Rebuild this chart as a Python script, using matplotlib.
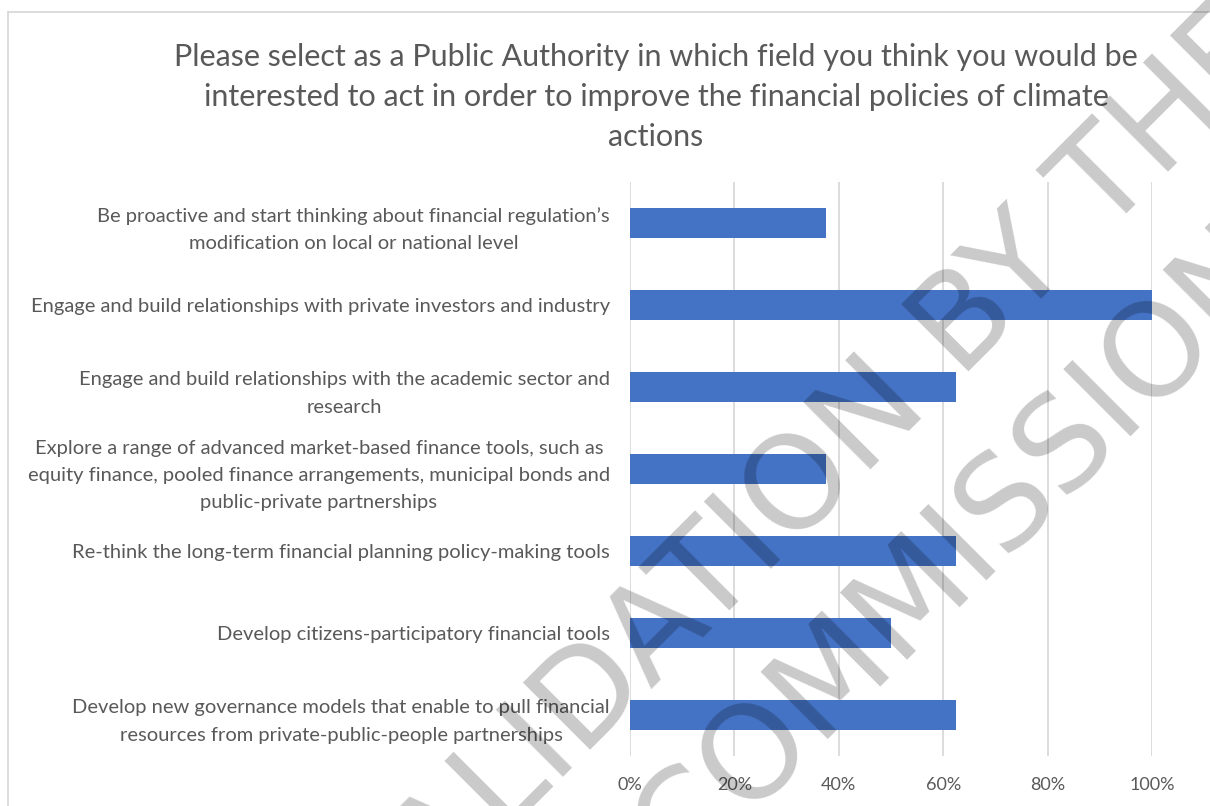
"""
Survey results - fields where public authorities would act on climate finance
"""

import matplotlib
matplotlib.use('Agg')
import matplotlib.pyplot as plt
from matplotlib.lines import Line2D
from matplotlib.ticker import PercentFormatter

TITLE = ('Please select as a Public Authority in which field you think you would be\n'
         'interested to act in order to improve the financial policies of climate\n'
         'actions')

fields = [
    'Be proactive and start thinking about financial regulation\u2019s\n'
    'modification on local or national level',
    'Engage and build relationships with private investors and industry',
    'Engage and build relationships with the academic sector and\nresearch',
    'Explore a range of advanced market-based finance tools, such as\n'
    'equity finance, pooled finance arrangements, municipal bonds and\n'
    'public-private partnerships',
    'Re-think the long-term financial planning policy-making tools',
    'Develop citizens-participatory financial tools',
    'Develop new governance models that enable to pull financial\n'
    'resources from private-public-people partnerships',
]
shares = [0.375, 1.0, 0.625, 0.375, 0.625, 0.5, 0.625]
x_ticks = [0, 0.2, 0.4, 0.6, 0.8, 1.0]

STAMP_LINE_1 = 'VALIDATION BY THE'
STAMP_LINE_2 = 'COMMISSION'

BAR_COLOR = '#4472c4'
TEXT_COLOR = '#595959'
GRID_COLOR = '#d9d9d9'
W, H = 1210, 806


def plot_fields():
    """
    Horizontal bar chart of the share of answers per field.
    """
    plt.rcParams['font.family'] = ['Lato', 'DejaVu Sans']
    fig = plt.figure(figsize=(W / 100, H / 100), dpi=100)
    fig.patch.set_facecolor('white')

    # plot area in pixel terms: x 630..1152, y 182..756
    ax = fig.add_axes([630 / W, 1 - 756 / H, 522 / W, 574 / H])
    ypos = list(range(len(fields)))
    ax.barh(ypos, shares, height=0.366, color=BAR_COLOR, zorder=2)
    ax.set_ylim(len(fields) - 0.5, -0.5)
    ax.set_xlim(0, 1)
    ax.set_xticks(x_ticks)
    ax.xaxis.set_major_formatter(PercentFormatter(1.0, decimals=0))
    ax.set_yticks(ypos)
    ax.set_yticklabels(fields, multialignment='center', linespacing=1.72)
    ax.tick_params(axis='y', length=0, pad=14.4, labelsize=14.5, labelcolor=TEXT_COLOR)
    ax.tick_params(axis='x', length=0, pad=15, labelsize=13, labelcolor=TEXT_COLOR)
    ax.grid(axis='x', color=GRID_COLOR, linewidth=1.3)
    ax.set_axisbelow(True)
    for spine in ax.spines.values():
        spine.set_visible(False)

    fig.text(656 / W, 1 - 43 / H, TITLE, ha='center', va='top', fontsize=22,
             color=TEXT_COLOR, multialignment='center', linespacing=1.53)

    # chart area frame (left and top edges only fall inside the picture)
    top = 1 - 12 / H
    left = 8 / W
    fig.add_artist(Line2D([left, 1.0], [top, top], color=GRID_COLOR, lw=1.3,
                          transform=fig.transFigure))
    fig.add_artist(Line2D([left, left], [0.0, top], color=GRID_COLOR, lw=1.3,
                          transform=fig.transFigure))

    # diagonal stamp over the whole chart
    stamp = dict(ha='center', va='baseline', rotation=45, rotation_mode='anchor',
                 fontsize=93.6, family='DejaVu Sans', color='black', alpha=0.21,
                 zorder=10)
    fig.text(835 / W, 1 - 505 / H, STAMP_LINE_1, **stamp)
    fig.text(985 / W, 1 - 575 / H, STAMP_LINE_2, **stamp)

    fig.savefig('out.png', dpi=100, facecolor='white')


if __name__ == '__main__':
    plot_fields()
